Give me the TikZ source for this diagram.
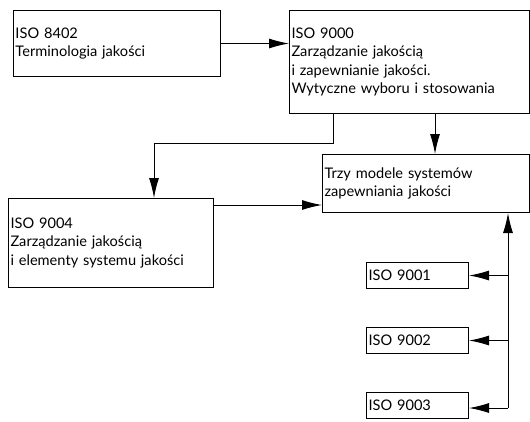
\documentclass[tikz,border=0pt]{standalone}
\usepackage{fontspec}
\setmainfont{Lato}
\usepackage{tikz}
\usetikzlibrary{positioning, arrows.meta}
\tikzset{every node/.style={font=\fontsize{14.6}{18.5}\selectfont},
         box/.style={draw, line width=1pt, anchor=north west, inner sep=2pt, align=left},
         arr/.style={-{Latex[length=20pt,width=10pt]}, line width=1pt},
         }

\begin{document}
\begin{tikzpicture}
    \useasboundingbox (0,0) rectangle (530pt,-421pt);
    \node[box, text width=203pt, minimum height=66pt] (iso8402) at (13pt,-10pt) {ISO 8402\\Terminologia jakości};
    \node[box, text width=236pt, minimum height=103pt] (iso9000) at (289pt,-10pt) {ISO 9000\\Zarządzanie jakością\\i zapewnianie jakości.\\Wytyczne wyboru i stosowania};
    \node[box, text width=203pt, minimum height=58pt] (modele) at (322pt,-154pt) {Trzy modele systemów\\zapewniania jakości};
    \node[box, text width=201pt, minimum height=89pt] (iso9004) at (8pt,-198pt) {ISO 9004\\Zarządzanie jakością\\i elementy systemu jakości};
    \node[box, text width=98pt, minimum height=26pt] (iso9001) at (366pt,-262pt) {ISO 9001};
    \node[box, text width=98pt, minimum height=26pt, below=38pt of iso9001] (iso9002) {ISO 9002};
    \node[box, text width=98pt, minimum height=26pt, below=38pt of iso9002] (iso9003) {ISO 9003};

    \coordinate (split) at ([xshift=44pt]iso9000.south west);
    \coordinate (down) at ([xshift=146pt]iso9000.south west);
    \coordinate (into) at ([xshift=146pt]iso9004.north west);
    \coordinate (side) at ([yshift=-7pt]iso9004.north east);
    \coordinate (bus) at (508pt,-408pt);

    \draw[arr] (iso8402.east) -- (iso8402.east -| iso9000.west);
    \draw[arr] (split) |- ([yshift=55pt]into) -- (into);
    \draw[arr] (down) -- (down |- modele.north);
    \draw[arr] (side) -- (side -| modele.west);
    \draw[arr] (bus) -- (bus |- modele.south);
    \draw[arr] (bus |- iso9001.east) -- (iso9001.east);
    \draw[arr] (bus |- iso9002.east) -- (iso9002.east);
    \draw[arr] (bus) -- (bus -| iso9003.east);
\end{tikzpicture}
\end{document}
